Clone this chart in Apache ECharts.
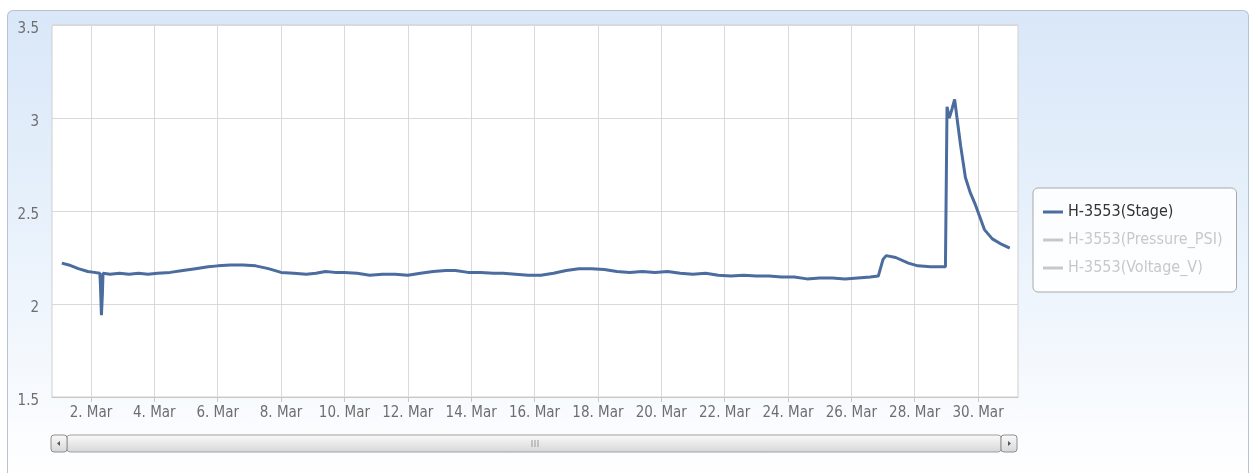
<!DOCTYPE html>
<html>
<head>
<meta charset="utf-8">
<script src="https://cdn.jsdelivr.net/npm/echarts@6/dist/echarts.min.js"></script>
<style>
html,body{margin:0;padding:0;background:#fff;width:1250px;height:473px;overflow:hidden;}
#bg{position:absolute;left:7px;top:10px;width:1240px;height:470px;border:1px solid #b7c3d2;border-bottom:none;border-radius:6px 6px 0 0;
background:linear-gradient(to bottom,#d9e7f8 0%,#e6f0fb 40%,#f4f8fd 75%,#ffffff 100%);}
#chart{position:absolute;left:0;top:0;width:1250px;height:473px;}
</style>
</head>
<body>
<div id="bg"></div>
<div id="chart"></div>
<script>
// ---- data (day of March, value) ----
const stageDays = [1.08,1.3,1.6,1.9,2.1,2.28,2.30,2.33,2.36,2.38,2.6,2.9,3.2,3.5,3.8,4.1,4.5,4.9,5.3,5.7,6.0,6.4,6.8,7.2,7.6,8.0,8.4,8.8,9.1,9.4,9.7,10.0,10.4,10.8,11.2,11.6,12.0,12.4,12.8,13.2,13.5,13.9,14.3,14.7,15.0,15.4,15.8,16.2,16.6,17.0,17.4,17.8,18.2,18.6,19.0,19.4,19.8,20.2,20.6,21.0,21.4,21.8,22.2,22.6,23.0,23.4,23.8,24.2,24.6,25.0,25.4,25.8,26.2,26.6,26.85,27.0,27.1,27.4,27.8,28.1,28.5,28.97,29.02,29.09,29.18,29.26,29.35,29.45,29.6,29.75,29.9,30.05,30.2,30.45,30.75,31.0];
const stageValues = [2.22,2.21,2.19,2.175,2.17,2.165,2.10,1.94,2.05,2.165,2.16,2.165,2.16,2.165,2.16,2.165,2.17,2.18,2.19,2.2,2.205,2.21,2.21,2.205,2.19,2.17,2.165,2.16,2.165,2.175,2.17,2.17,2.165,2.155,2.16,2.16,2.155,2.165,2.175,2.18,2.18,2.17,2.17,2.165,2.165,2.16,2.155,2.155,2.165,2.18,2.19,2.19,2.185,2.175,2.17,2.175,2.17,2.175,2.165,2.16,2.165,2.155,2.15,2.155,2.15,2.15,2.145,2.145,2.135,2.14,2.14,2.135,2.14,2.145,2.15,2.24,2.26,2.25,2.22,2.205,2.2,2.2,3.06,3.0,3.05,3.10,2.98,2.85,2.68,2.6,2.54,2.47,2.4,2.35,2.32,2.30];
const pressureValues = [];
const voltageValues = [];
const xTickDays = [2,4,6,8,10,12,14,16,18,20,22,24,26,28,30];
const yTicks = [1.5,2,2.5,3,3.5];
const seriesNames = ['H-3553(Stage)','H-3553(Pressure_PSI)','H-3553(Voltage_V)'];

const FONT = "'DejaVu Sans Condensed','Liberation Sans Narrow','Liberation Sans',sans-serif";
const chart = echarts.init(document.getElementById('chart'), null, {renderer:'canvas'});
const stageData = stageDays.map((d,i)=>[d, stageValues[i]]);

function btnFill(){return new echarts.graphic.LinearGradient(0,0,0,1,[{offset:0,color:'#fbfbfb'},{offset:1,color:'#d6d6d6'}]);}

chart.setOption({
  backgroundColor:'transparent',
  animation:false,
  grid:{left:52,right:232,top:25,bottom:76,show:true,backgroundColor:'#ffffff',borderColor:'#cfcfcf',borderWidth:1},
  xAxis:{
    type:'value', min:0.77, max:31.26,
    axisLine:{show:true,lineStyle:{color:'#c8c8c8'}},
    axisTick:{show:true,length:5,lineStyle:{color:'#c8c8c8'},customValues:xTickDays},
    splitLine:{show:true,lineStyle:{color:'#d9d9d9',width:1},customValues:xTickDays},
    axisLabel:{customValues:xTickDays,formatter:v=>v+'. Mar',color:'#6e6e6e',fontFamily:FONT,fontSize:15,margin:9}
  },
  yAxis:{
    type:'value', min:yTicks[0], max:yTicks[yTicks.length-1], interval:0.5,
    axisLine:{show:false},axisTick:{show:false},
    splitLine:{show:true,lineStyle:{color:'#d9d9d9',width:1}},
    axisLabel:{color:'#6e6e6e',fontFamily:FONT,fontSize:15,margin:13,
      formatter:v=>'{a|'+v+'}',
      rich:{a:{color:'#6e6e6e',fontFamily:FONT,fontSize:15,padding:[9,0,0,0]}}}
  },
  legend:{
    orient:'vertical', left:1033, top:188,
    backgroundColor:'rgba(255,255,255,0.85)', borderColor:'#a9a9a9', borderWidth:1, borderRadius:5,
    padding:[14,14,14,10], itemGap:8, itemWidth:20, itemHeight:3, icon:'rect',
    inactiveColor:'#c8c8c8',
    textStyle:{color:'#333',fontFamily:FONT,fontSize:16,lineHeight:20},
    data:seriesNames,
    selected:{'H-3553(Pressure_PSI)':false,'H-3553(Voltage_V)':false}
  },
  series:[
    {name:seriesNames[0],type:'line',data:stageData,showSymbol:false,symbol:'none',
     lineStyle:{color:'#4a6c9e',width:3},itemStyle:{color:'#4a6c9e'}},
    {name:seriesNames[1],type:'line',data:pressureValues,showSymbol:false,lineStyle:{color:'#aa4643',width:2},itemStyle:{color:'#aa4643'}},
    {name:seriesNames[2],type:'line',data:voltageValues,showSymbol:false,lineStyle:{color:'#89a54e',width:2},itemStyle:{color:'#89a54e'}}
  ],
  graphic:[
    {type:'rect',shape:{x:67,y:435,width:934,height:17,r:3},style:{fill:btnFill(),stroke:'#a0a0a0',lineWidth:1}},
    {type:'rect',shape:{x:51,y:435,width:16,height:17,r:3},style:{fill:btnFill(),stroke:'#8e8e8e',lineWidth:1}},
    {type:'rect',shape:{x:1001,y:435,width:16,height:17,r:3},style:{fill:btnFill(),stroke:'#8e8e8e',lineWidth:1}},
    {type:'polygon',shape:{points:[[57,443.5],[60,441],[60,446]]},style:{fill:'#555'}},
    {type:'polygon',shape:{points:[[1011,443.5],[1008,441],[1008,446]]},style:{fill:'#555'}},
    {type:'line',shape:{x1:532,y1:440,x2:532,y2:447},style:{stroke:'#999',lineWidth:1}},
    {type:'line',shape:{x1:535,y1:440,x2:535,y2:447},style:{stroke:'#999',lineWidth:1}},
    {type:'line',shape:{x1:538,y1:440,x2:538,y2:447},style:{stroke:'#999',lineWidth:1}}
  ]
});
</script>
</body>
</html>
